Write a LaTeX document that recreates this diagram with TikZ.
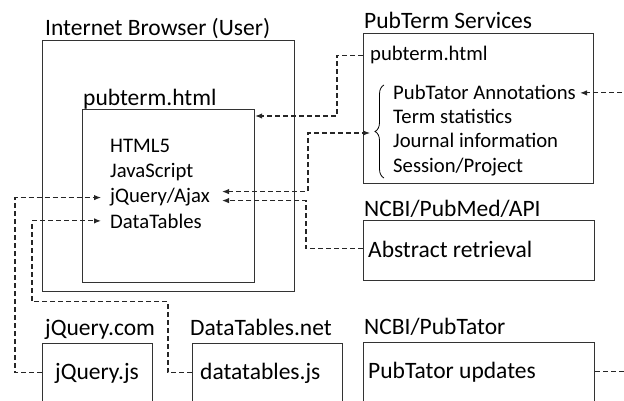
\documentclass[tikz,border=0pt]{standalone}
\usepackage{fontspec}
\setmainfont{Carlito}
\usepackage{tikz}
\usetikzlibrary{positioning,arrows.meta,decorations.pathreplacing}

\begin{document}
\begin{tikzpicture}[x=1pt, y=-1pt, >={Latex[length=7pt,width=5.5pt]},
  every box/.style={draw=black!80, line width=1.2pt, inner sep=0pt, anchor=north west},
  big label/.style={font=\fontsize{23.5}{28}\selectfont, inner sep=0pt, anchor=base west},
  small label/.style={font=\fontsize{20.7}{24}\selectfont, inner sep=0pt, anchor=base west},
  link/.style={draw=black!85, line width=1.1pt, dash pattern=on 5pt off 3pt}]

\useasboundingbox (0,0) rectangle (624,401);
\clip (0,0) rectangle (624,401);

% boxes
\node [every box, minimum width=252pt, minimum height=251pt] (browser) at (42,40) {};
\node [every box, minimum width=172pt, minimum height=173pt] (page) at (82,109) {};
\node [every box, minimum width=230pt, minimum height=150pt] (services) at (363,33) {};
\node [every box, minimum width=231pt, minimum height=60pt] (pubmed) at (363,220) {};
\node [every box, minimum width=110pt, minimum height=80pt] (jquery) at (42,343) {};
\node [every box, minimum width=150pt, minimum height=80pt] (datatables) at (192,343) {};
\node [every box, minimum width=231pt, minimum height=80pt] (pubtator) at (363,342) {};

% titles
\node [big label] (browser-title) at (45,36) {Internet Browser (User)};
\node [big label] (page-title) at (83,106) {pubterm.html};
\node [big label] (services-title) at (364,29) {PubTerm Services};
\node [big label] (pubmed-title) at (364,216) {NCBI/PubMed/API};
\node [big label] (jquery-title) at (45,335) {jQuery.com};
\node [big label] (datatables-title) at (190,335) {DataTables.net};
\node [big label] (pubtator-title) at (364,334) {NCBI/PubTator};

% box contents
\foreach \l [count=\i] in {HTML5, JavaScript, jQuery/Ajax, DataTables}
  \node [small label] (page-\i) at (110,128+25*\i) {\l};

\node [small label] (svc-page) at (370,61) {pubterm.html};
\foreach \l [count=\i] in {PubTator Annotations, Term statistics, Journal information, Session/Project}
  \node [small label] (svc-\i) at (393,76+24*\i) {\l};

\node [big label] (pubmed-text) at (368,257) {Abstract retrieval};
\node [big label] (jquery-text) at (55,379) {jQuery.js};
\node [big label] (datatables-text) at (200,379) {datatables.js};
\node [big label] (pubtator-text) at (368,378) {PubTator updates};

\draw [line width=0.8pt, decorate, decoration={brace, amplitude=9pt}]
  (384,178) -- (384,85);
\coordinate (brace-tip) at (370,133);

% connectors
\draw [link, ->] (services.west |- svc-page) -- ++(-26,0)
  |- ([yshift=-7pt]page.north east);
\draw [link, <->] ([xshift=12pt, yshift=6pt]page-3.east) -- ++(86,0)
  |- (brace-tip);
\draw [link, ->] (pubmed.west |- pubmed-text) -- ++(-57,0)
  |- ([xshift=12pt, yshift=-3pt]page-3.east);
\draw [link, ->] (jquery.west |- jquery-text) -- ++(-27,0)
  |- ([xshift=-9pt]page-3.west);
\draw [link, ->] (datatables.west |- datatables-text) -- ++(-24,0)
  -- ++(0,-71) -- ++(-136,0) |- ([xshift=-9pt]page-4.west);
\draw [link, ->] (pubtator.east |- pubtator-text) -- ++(50,0)
  |- ([xshift=4pt]svc-1.east);

\end{tikzpicture}
\end{document}
